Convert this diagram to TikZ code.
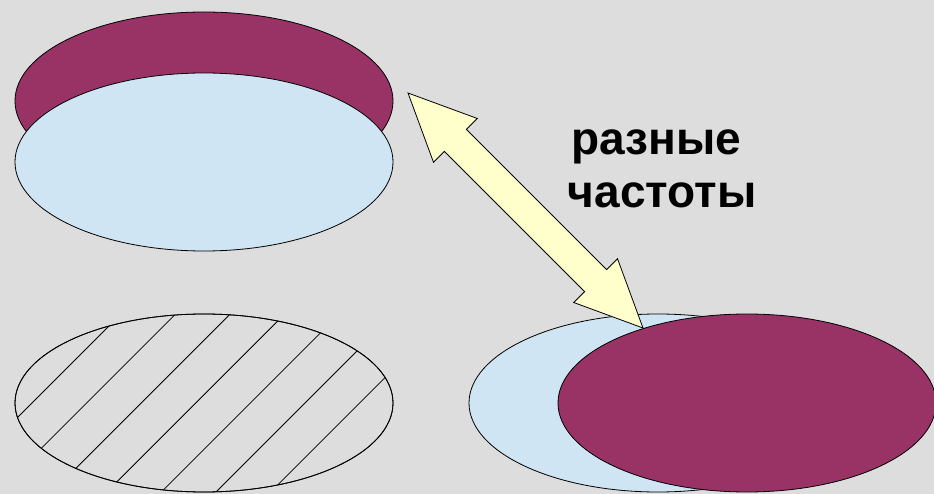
\documentclass[tikz,border=0pt]{standalone}
\usepackage{fontspec}
\setmainfont{Liberation Sans}
\usetikzlibrary{shapes.geometric}

\definecolor{bggray}{HTML}{DDDDDD}
\definecolor{plum}{HTML}{993366}
\definecolor{paleblue}{HTML}{CFE5F3}
\definecolor{paleyellow}{HTML}{FFFFCC}

\tikzset{
  disc/.style={ellipse, draw=black, line width=0.8pt, inner sep=0pt,
               minimum width=378pt, minimum height=178pt},
  hatchline/.style={draw=black, line width=0.8pt},
  label/.style={font=\bfseries\fontsize{46}{53}\selectfont, anchor=base, inner sep=0pt}
}

\begin{document}
\begin{tikzpicture}[x=1pt, y=-1pt]
  % canvas
  \fill[bggray] (0,0) rectangle (934,494);
  \useasboundingbox (0,0) rectangle (934,494);

  % upper pair: plum disc partly hidden behind the blue one
  \node[disc, fill=plum]     (topback)  at (204,101) {};
  \node[disc, fill=paleblue] (topfront) at (204,162) {};

  % lower left: hatched disc
  \node[disc] (hatched) at (204,403) {};
  \begin{scope}
    \clip (204,403) ellipse [x radius=189, y radius=89];
    \foreach \c in {435,489.6,...,830} {
      \draw[hatchline] (\c-500,500) -- (\c-300,300);
    }
  \end{scope}
  \node[disc] at (hatched) {};

  % lower right: blue disc with a plum disc shifted over it
  \node[disc, fill=paleblue] (lowback)  at (658,403) {};
  \node[disc, fill=plum]     (lowfront) at (747,403) {};

  % double-headed block arrow between the pairs
  \coordinate (tipA) at (408,93);
  \coordinate (tipB) at (643,328);
  \draw[fill=paleyellow, line width=0.8pt, line join=miter]
    (tipA) -- (477.3,118.5) -- (466.4,129.4) -- (606.6,269.6) -- (617.5,258.7)
    -- (tipB) -- (573.7,302.5) -- (584.6,291.6) -- (444.4,151.4) -- (433.5,162.3)
    -- cycle;

  % caption
  \node[label] (word1) at (656,155) {разные};
  \node[label] (word2) at (662,208) {частоты};
\end{tikzpicture}
\end{document}
